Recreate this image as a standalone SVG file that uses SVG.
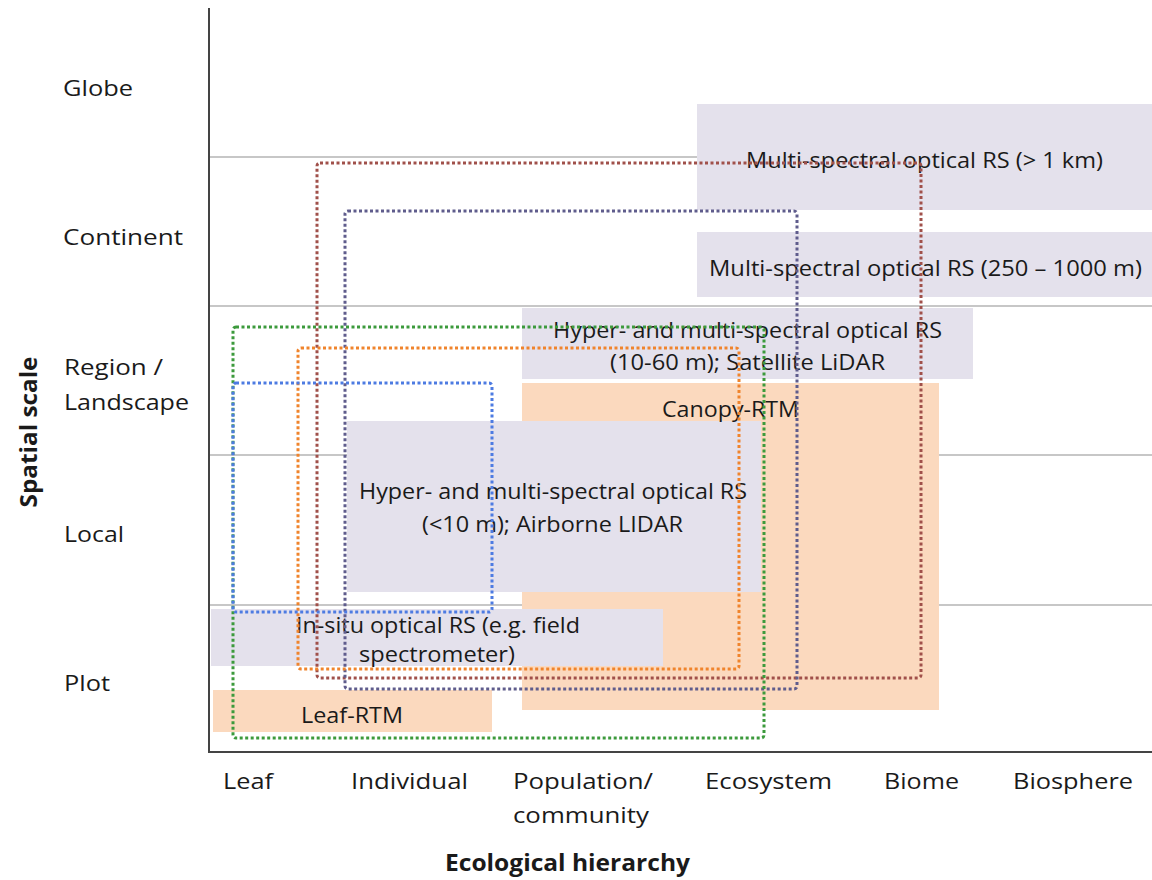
<svg xmlns="http://www.w3.org/2000/svg" width="1152" height="880" viewBox="0 0 1152 880">
<style>
text{font-family:"Open Sans","Liberation Sans",sans-serif;font-size:22px;fill:#1a1a1a}
.b{font-weight:bold;font-size:23px}
.m{text-anchor:middle}
.grid{stroke:#b4b4b4;stroke-width:1.5}
.axis{stroke:#444;stroke-width:2;fill:none}
.lav{fill:#e4e1ec}
.pea{fill:#fbd9be}
.dot{fill:none;stroke-width:3;stroke-dasharray:3 2.5;stroke-linejoin:round}
</style>
<rect width="1152" height="880" fill="#fff"/>
<g id="gridlines">
<line class="grid" x1="209" y1="157" x2="1152" y2="157"/>
<line class="grid" x1="209" y1="306" x2="1152" y2="306"/>
<line class="grid" x1="209" y1="455" x2="1152" y2="455"/>
<line class="grid" x1="209" y1="605" x2="1152" y2="605"/>
</g>
<g id="axes">
<polyline class="axis" points="209,8 209,752 1152,752"/>
</g>
<g id="y-labels">
<text x="63" y="96" textLength="70" lengthAdjust="spacingAndGlyphs">Globe</text>
<text x="63" y="245" textLength="120" lengthAdjust="spacingAndGlyphs">Continent</text>
<text x="64" y="375" textLength="99" lengthAdjust="spacingAndGlyphs">Region /</text>
<text x="64" y="410" textLength="125" lengthAdjust="spacingAndGlyphs">Landscape</text>
<text x="64" y="542" textLength="60" lengthAdjust="spacingAndGlyphs">Local</text>
<text x="64" y="691" textLength="46" lengthAdjust="spacingAndGlyphs">Plot</text>
<text class="b m" transform="translate(37,432) rotate(-90)" textLength="151" lengthAdjust="spacingAndGlyphs">Spatial scale</text>
</g>
<g id="x-labels">
<text x="223" y="789" textLength="50" lengthAdjust="spacingAndGlyphs">Leaf</text>
<text x="351" y="789" textLength="117" lengthAdjust="spacingAndGlyphs">Individual</text>
<text x="513" y="789" textLength="140" lengthAdjust="spacingAndGlyphs">Population/</text>
<text x="513" y="823" textLength="136" lengthAdjust="spacingAndGlyphs">community</text>
<text x="705" y="789" textLength="127" lengthAdjust="spacingAndGlyphs">Ecosystem</text>
<text x="884" y="789" textLength="75" lengthAdjust="spacingAndGlyphs">Biome</text>
<text x="1013" y="789" textLength="120" lengthAdjust="spacingAndGlyphs">Biosphere</text>
<text class="b" x="445" y="871" textLength="245" lengthAdjust="spacingAndGlyphs">Ecological hierarchy</text>
</g>
<g id="canopy-rtm">
<rect class="pea" x="522" y="383" width="417" height="327"/>
</g>
<g id="ms-1km">
<rect class="lav" x="697" y="104" width="455" height="106"/>
</g>
<g id="ms-250">
<rect class="lav" x="697" y="232" width="455" height="65"/>
</g>
<g id="hyper-10-60">
<rect class="lav" x="522" y="308" width="451" height="71"/>
</g>
<g id="hyper-10">
<rect class="lav" x="347" y="421" width="414" height="171"/>
</g>
<g id="in-situ">
<rect class="lav" x="211" y="609" width="452" height="57"/>
</g>
<g id="leaf-rtm">
<rect class="pea" x="213" y="690" width="279" height="42"/>
</g>
<g id="labels">
<text x="746" y="168" textLength="357" lengthAdjust="spacingAndGlyphs">Multi-spectral optical RS (&gt; 1 km)</text>
<text x="709" y="276" textLength="433" lengthAdjust="spacingAndGlyphs">Multi-spectral optical RS (250 – 1000 m)</text>
<text x="553" y="338" textLength="389" lengthAdjust="spacingAndGlyphs">Hyper- and multi-spectral optical RS</text>
<text x="610" y="370" textLength="275" lengthAdjust="spacingAndGlyphs">(10-60 m); Satellite LiDAR</text>
<text x="662" y="417" textLength="137" lengthAdjust="spacingAndGlyphs">Canopy-RTM</text>
<text x="359" y="499" textLength="388" lengthAdjust="spacingAndGlyphs">Hyper- and multi-spectral optical RS</text>
<text x="422" y="532" textLength="261" lengthAdjust="spacingAndGlyphs">(&lt;10 m); Airborne LIDAR</text>
<text x="296" y="633" textLength="284" lengthAdjust="spacingAndGlyphs">In-situ optical RS (e.g. field</text>
<text x="359" y="662" textLength="156" lengthAdjust="spacingAndGlyphs">spectrometer)</text>
<text x="301" y="723" textLength="102" lengthAdjust="spacingAndGlyphs">Leaf-RTM</text>
</g>
<g id="connectors">
<rect class="dot" x="317" y="163" width="604" height="515" rx="3" stroke="#a0504a"/>
<rect class="dot" x="345" y="211" width="452" height="478" rx="3" stroke="#5f5c8c"/>
<rect class="dot" x="233" y="327" width="531" height="411" rx="3" stroke="#3c9a3c"/>
<rect class="dot" x="298" y="348" width="441" height="321" rx="3" stroke="#f0842c"/>
<rect class="dot" x="233" y="383" width="259" height="229" rx="3" stroke="#4d7be2"/>
</g>
</svg>
